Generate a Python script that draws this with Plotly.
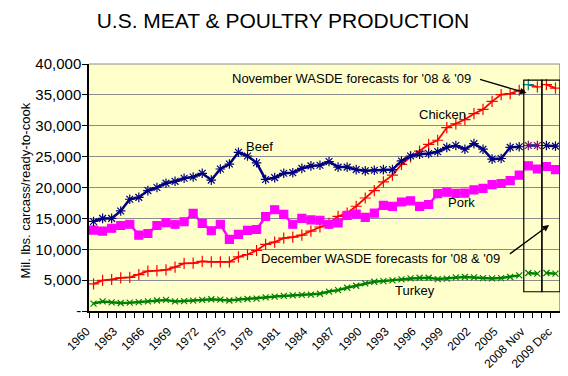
import plotly.graph_objects as go

years = list(range(1960, 2008))
forecast_labels = ["2008 Nov", "2009 Nov", "2008 Dec", "2009 Dec"]
categories = [str(y) for y in years] + forecast_labels

beef = [14500, 15000, 15000, 16200, 18100, 18400, 19500, 20000, 20700, 21000,
        21500, 21700, 22300, 21200, 23000, 23800, 25700, 25100, 24000, 21300,
        21600, 22300, 22400, 23100, 23500, 23600, 24200, 23300, 23300, 22900,
        22700, 22800, 22900, 22900, 24300, 25100, 25400, 25500, 25800, 26500,
        26800, 26200, 27100, 26200, 24600, 24700, 26500, 26600]
pork = [13100, 12950, 13400, 13850, 14050, 12300, 12550, 13850, 14300, 14050,
        14450, 15800, 14200, 13000, 14050, 11600, 12400, 13050, 13200, 15300,
        16400, 15650, 14050, 15000, 14750, 14700, 14050, 14250, 15500, 15700,
        15150, 15850, 17100, 16950, 17650, 17850, 16950, 17250, 19000, 19250,
        19050, 19100, 19600, 19850, 20450, 20650, 21100, 22000]
chicken = [4400, 4950, 5100, 5350, 5450, 5900, 6450, 6550, 6650, 7100,
           7700, 7750, 8050, 7950, 7950, 7950, 8770, 9150, 9800, 10800,
           11150, 11800, 11950, 12300, 12950, 13600, 14200, 15330, 15870, 16960,
           18300, 19500, 20900, 22000, 23750, 24950, 25900, 27000, 27650, 29700,
           30300, 31000, 31950, 32650, 33950, 35050, 35200, 35750]
turkey = [1200, 1550, 1400, 1300, 1350, 1450, 1550, 1700, 1800, 1550,
          1600, 1680, 1800, 1900, 1850, 1700, 1850, 1950, 2000, 2200,
          2330, 2440, 2540, 2600, 2650, 2800, 3150, 3380, 3760, 4090,
          4470, 4740, 4850, 4950, 5120, 5280, 5390, 5390, 5170, 5250,
          5440, 5500, 5440, 5330, 5280, 5330, 5500, 5770]

# November WASDE forecasts (2008, 2009) and December WASDE forecasts (2008, 2009)
beef_nov = [26800, 26800]
beef_dec = [26800, 26700]
pork_nov = [23500, 23000]
pork_dec = [23400, 22900]
chicken_nov = [36650, 36300]
chicken_dec = [36650, 36100]
turkey_nov = [6150, 6040]
turkey_dec = [6150, 6040]

y_ticks = [0, 5000, 10000, 15000, 20000, 25000, 30000, 35000, 40000]
y_ticktext = ["-", "5,000", "10,000", "15,000", "20,000", "25,000", "30,000", "35,000", "40,000"]

n_hist = len(years)
x_hist = list(range(n_hist))
x_nov = [n_hist, n_hist + 1]
x_dec = [n_hist + 2, n_hist + 3]

FONT = "Liberation Sans, Arial, sans-serif"

fig = go.Figure()

def add_series(x, y, color, symbol, msize, lw, mcolor=None):
    mc = mcolor if mcolor is not None else color
    fig.add_trace(go.Scatter(
        x=x, y=y, mode="lines+markers",
        line=dict(color=color, width=lw),
        marker=dict(symbol=symbol, size=msize, color=mc,
                    line=dict(color=mc, width=1.2)),
        showlegend=False, hoverinfo="y"))

NAVY = "#000080"
MAG = "#FF00FF"
RED = "#FF0000"
GREEN = "#008000"

# Historical series
add_series(x_hist, turkey, GREEN, "x-thin-open", 6, 2.5)
add_series(x_hist, chicken, RED, "cross-thin-open", 8, 1.8)
add_series(x_hist, pork, MAG, "square", 8, 2.5)
add_series(x_hist, beef, NAVY, "asterisk-open", 8, 2.5)

# November forecasts
add_series(x_nov, turkey_nov, GREEN, "x-thin-open", 6, 2.5)
add_series(x_nov, chicken_nov, RED, "cross-thin-open", 8, 1.8, mcolor=["#008080", RED])
add_series(x_nov, pork_nov, MAG, "square", 8, 2.5)
add_series(x_nov, beef_nov, NAVY, "asterisk-open", 8, 2.5, mcolor="#800080")

# December forecasts
add_series(x_dec, turkey_dec, GREEN, "x-thin-open", 6, 2.5)
add_series(x_dec, chicken_dec, RED, "cross-thin-open", 8, 1.8)
add_series(x_dec, pork_dec, MAG, "square", 8, 2.5)
add_series(x_dec, beef_dec, NAVY, "asterisk-open", 8, 2.5)

tick_idx = list(range(0, len(categories), 3))

# the page body adds an 8px offset, so the figure is 8px smaller
fig.update_layout(
    width=560, height=368,
    margin=dict(l=81, r=8, t=56, b=65, autoexpand=False),
    paper_bgcolor="white",
    plot_bgcolor="#FFFFCC",
    font=dict(family=FONT, color="black", size=13),
    title=dict(text="U.S. MEAT &amp; POULTRY PRODUCTION",
               x=0.491, xref="container", xanchor="center",
               y=0.966, yref="container", yanchor="middle",
               font=dict(family=FONT, size=21, color="black")),
    xaxis=dict(
        range=[-0.5, len(categories) - 0.5],
        tickmode="array", tickvals=tick_idx,
        ticktext=[categories[i] for i in tick_idx],
        tickangle=-45, ticks="", showgrid=False, zeroline=False,
        showline=True, linecolor="black", linewidth=1.5,
        tickfont=dict(size=12, family=FONT), automargin=False,
        ticklabelshift=-7, ticklabelstandoff=7,
        minor=dict(tickmode="linear", tick0=-0.5, dtick=1, ticks="outside",
                   ticklen=5, tickcolor="black", tickwidth=1, showgrid=False),
    ),
    yaxis=dict(
        range=[0, 40000], tickmode="array", tickvals=y_ticks, ticktext=y_ticktext,
        ticks="outside", ticklen=5, tickcolor="black",
        showgrid=True, gridcolor="#8C8C8C", gridwidth=1, zeroline=False,
        showline=True, linecolor="black", linewidth=1.5, automargin=False,
        tickfont=dict(size=15, family=FONT), ticklabelstandoff=-2,
    ),
)

# Plot area border on top and right (gray)
fig.add_shape(type="line", xref="x domain", yref="y domain", x0=0, x1=1, y0=1, y1=1,
              line=dict(color="#8C8C8C", width=1))
fig.add_shape(type="line", xref="x domain", yref="y domain", x0=1, x1=1, y0=0, y1=1,
              line=dict(color="#8C8C8C", width=1.5))

# Forecast boxes
for x0, x1 in [(n_hist - 0.5, n_hist + 1.5), (n_hist + 1.5, n_hist + 3.5)]:
    fig.add_shape(type="rect", xref="x", yref="y", x0=x0, x1=x1, y0=3120, y1=37400,
                  line=dict(color="black", width=1.2), fillcolor="rgba(0,0,0,0)")

# Series labels
labels = [("Beef", 18.3, 26700), ("Chicken", 38.5, 31900),
          ("Pork", 40.6, 17650), ("Turkey", 35.5, 3240)]
for t, xx, yy in labels:
    fig.add_annotation(x=xx, y=yy, text=t, showarrow=False,
                       font=dict(size=13, family=FONT, color="black"))

# Forecast notes with arrows
fig.add_annotation(x=28.5, y=37730, text="November WASDE forecasts for '08 &amp; '09",
                   showarrow=False, font=dict(size=13, family=FONT, color="black"))
fig.add_annotation(x=47.8, y=35300, ax=42.5, ay=37570, axref="x", ayref="y",
                   xref="x", yref="y", text="", showarrow=True,
                   arrowhead=2, arrowsize=1, arrowwidth=1.3, arrowcolor="black")
fig.add_annotation(x=31.7, y=8580, text="December WASDE forecasts for '08 &amp; '09",
                   showarrow=False, font=dict(size=13, family=FONT, color="black"))
fig.add_annotation(x=50.3, y=13930, ax=45.8, ay=9070, axref="x", ayref="y",
                   xref="x", yref="y", text="", showarrow=True,
                   arrowhead=2, arrowsize=1, arrowwidth=1.3, arrowcolor="black")

# Y axis title
fig.add_annotation(xref="paper", yref="paper", x=-0.153, y=0.49,
                   text="Mil. lbs. carcass/ready-to-cook", textangle=-90,
                   showarrow=False, font=dict(size=13, family=FONT, color="black"))

fig.write_html("out.html")
